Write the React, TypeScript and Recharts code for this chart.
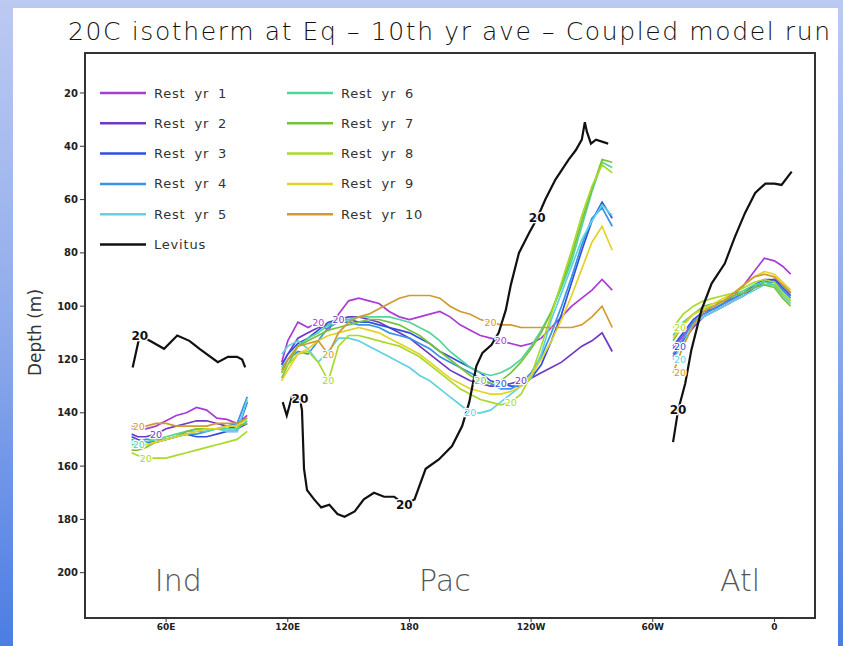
import React from "react"
import {
  LineChart,
  Line,
  XAxis,
  YAxis,
  ReferenceArea,
  ReferenceDot,
  Legend,
} from "recharts"

const FONT = "DejaVu Sans, sans-serif"

const seriesNames = [
  "Rest yr 1", "Rest yr 2", "Rest yr 3", "Rest yr 4", "Rest yr 5",
  "Rest yr 6", "Rest yr 7", "Rest yr 8", "Rest yr 9", "Rest yr 10",
]
const seriesColors = [
  "#a83cd6", "#6f38c4", "#2f4fe0", "#3a92e6", "#5fd3df",
  "#4fd69a", "#78c23a", "#a9d92a", "#e2d325", "#d29a2c",
]

// longitude grids (deg east, 0..380) for the three basins
const indLon = [43, 46, 50, 55, 60, 65, 70, 75, 80, 85, 90, 95, 100]
const pacLon = [
  117, 120, 125, 130, 135, 140, 145, 150, 155, 160, 165, 170, 175, 180, 185, 190, 195,
  200, 205, 210, 215, 220, 225, 230, 235, 240, 245, 250, 255, 260, 265, 270, 275, 280,
]
const atlLon = [310, 315, 320, 325, 330, 335, 340, 345, 350, 355, 360, 364, 368]
const basinStartLon = [43, 310]

// 20C isotherm depth (m), one row per restart year
const restInd = [
  [146, 146, 146, 145, 143, 141, 140, 138, 139, 142, 142.5, 144, 141],
  [148, 149, 149, 148, 146, 145, 144, 143, 143, 144, 145, 146, 144],
  [149, 150, 151, 151, 150, 149, 148, 149, 149, 148, 147, 147, 136],
  [150, 151, 150, 150, 150, 149, 148, 148, 147, 146, 145, 144, 134],
  [151, 152, 152, 151, 150, 149, 147, 146, 146, 146, 147, 147, 135],
  [152, 152, 151, 150, 149, 148, 147, 147, 147, 146, 146, 146, 143],
  [154, 154, 153, 151, 150, 149, 147, 146, 146, 146, 145, 145, 144],
  [155, 156, 157, 157, 157, 156, 155, 154, 153, 152, 151, 150, 147],
  [153, 153, 152, 151, 150, 149, 148, 147, 146, 146, 145, 145, 142],
  [145, 145, 145, 144, 144, 145, 145, 145, 145, 144, 144, 144, 142],
]
const restPac = [
  [121, 113, 106, 108, 106, 109, 103, 98, 97, 98, 99, 102, 104, 105, 104, 103, 102, 104, 107, 109, 111, 112, 113, 114, 115, 114, 112, 108, 104, 100, 97, 94, 90, 94],
  [122, 118, 112, 110, 108, 107, 105, 104, 104, 105, 106, 108, 110, 112, 115, 118, 121, 124, 126, 128, 129, 130, 130, 129, 128, 127, 125, 123, 121, 118, 115, 113, 110, 117],
  [122, 118, 114, 112, 109, 106, 105, 105, 106, 106, 107, 108, 109, 110, 112, 114, 117, 119, 121, 123, 125, 128, 129, 130, 130, 127, 122, 113, 103, 91, 79, 68, 61, 67],
  [125, 120, 117, 118, 113, 108, 106, 106, 107, 107, 108, 110, 111, 112, 114, 116, 119, 121, 123, 125, 127, 129, 131, 131, 129, 125, 119, 110, 100, 89, 77, 67, 63, 70],
  [118, 115, 113, 116, 121, 117, 112, 112, 113, 115, 117, 119, 121, 123, 126, 128, 131, 134, 137, 140, 140, 139, 136, 133, 130, 127, 118, 105, 95, 85, 75, 68, 62, 66],
  [123, 120, 115, 112, 110, 107, 106, 105, 104, 104, 104, 104, 105, 106, 108, 110, 113, 117, 120, 123, 125, 126, 125, 123, 120, 115, 109, 102, 93, 83, 70, 57, 46, 48],
  [127, 122, 115, 113, 111, 109, 108, 107, 106, 105, 105, 106, 107, 109, 111, 114, 117, 120, 123, 126, 128, 129, 128, 125, 121, 116, 110, 102, 92, 81, 68, 56, 45, 46],
  [125, 122, 118, 117, 121, 128, 115, 111, 111, 112, 113, 114, 115, 117, 119, 122, 125, 128, 131, 133, 135, 136, 137, 136, 133, 126, 115, 103, 91, 79, 66, 55, 47, 50],
  [128, 124, 118, 116, 113, 111, 110, 109, 108, 109, 110, 112, 114, 116, 118, 121, 124, 127, 129, 131, 132, 133, 133, 132, 130, 126, 120, 113, 105, 96, 86, 76, 70, 79],
  [124, 120, 115, 114, 113, 118, 110, 106, 104, 103, 101, 99, 97, 96, 96, 96, 97, 100, 102, 103, 105, 106, 107, 107, 108, 108, 108, 108, 108, 108, 107, 104, 100, 108],
]
const restAtl = [
  [116, 111, 106, 103, 101, 99, 96, 92, 87, 82, 83, 85, 88],
  [119, 113, 108, 104, 102, 100, 98, 96, 93, 91, 90, 92, 95],
  [115, 110, 105, 102, 101, 99, 97, 95, 92, 90, 90, 93, 96],
  [118, 112, 106, 103, 101, 99, 97, 95, 93, 91, 91, 94, 97],
  [120, 114, 107, 104, 102, 100, 98, 96, 94, 92, 92, 95, 98],
  [111, 106, 103, 101, 100, 98, 96, 94, 92, 91, 92, 96, 99],
  [113, 107, 103, 100, 99, 98, 96, 95, 93, 92, 93, 97, 100],
  [108, 103, 100, 98, 97, 96, 95, 93, 91, 90, 91, 95, 98],
  [112, 107, 103, 101, 99, 97, 95, 92, 89, 87, 88, 91, 94],
  [125, 115, 107, 102, 100, 98, 95, 92, 89, 88, 89, 92, 95],
]
// where each run carries a "20" contour label
const restLabelLon = [
  [135, 225],
  [55, 145, 235],
  [225, 310],
  [],
  [210, 310],
  [43],
  [215],
  [50, 140, 230, 310],
  [],
  [43, 140, 220, 310],
]

// Levitus climatology
const levIndLon = [43.5, 47, 52, 59, 65.5, 71.5, 76.5, 85.5, 90.5, 95, 97.5, 99]
const levIndDepth = [123, 111, 113, 116, 111, 113, 116, 121, 119, 119, 120, 123]
const levPacLon = [
  117.5, 119.5, 122, 126, 127, 128, 129.5, 133, 136.5, 140.5, 144.5, 148, 153, 157.5,
  162.5, 167.5, 172.5, 177.5, 182.5, 188, 194.5, 201, 206, 209.5, 213, 216, 220.5, 224,
  227.5, 230, 234, 239, 243, 247, 252, 258.5, 262, 265, 266.5, 267.5, 269.5, 272, 278,
]
const levPacDepth = [
  136, 141, 134, 135, 139, 161, 169, 172.5, 175.5, 174.5, 178, 179, 177, 172.5,
  170, 171.5, 171.5, 174.5, 172.5, 161, 157.5, 152.5, 145, 136, 122.5, 117.5, 114.5, 110,
  101.5, 92, 80, 72.5, 67, 60, 52.5, 45, 41.5, 37.5, 31, 34.5, 39, 37.5, 39,
]
const levAtlLon = [310, 312.5, 316, 319, 324, 329, 335.5, 340.5, 345.5, 350.5, 355.5, 360, 363.5, 368.5]
const levAtlDepth = [151, 139, 129, 116.5, 101.5, 91.5, 84, 74, 65, 57.5, 54, 54, 54.5, 49.5]
const levLabelLon = [47, 126, 177.5, 243, 312.5]

const lonTicks = [60, 120, 180, 240, 300, 360]
const lonTickLabels = ["60E", "120E", "180", "120W", "60W", "0"]
const depthTicks = [20, 40, 60, 80, 100, 120, 140, 160, 180, 200]

const basinNames = ["Ind", "Pac", "Atl"]
const basinLon = [66, 197.5, 343]
const basinDepth = [203, 203, 203]

const keyOf = (k: number) => `r${k}`

const basinRows = (lons: number[], table: number[][]) =>
  lons.map((lon, i) => {
    const row: any = { lon }
    table.forEach((vals, k) => (row[keyOf(k)] = vals[i]))
    return row
  })

const gapRow = (lon: number) => {
  const row: any = { lon }
  seriesNames.forEach((_, k) => (row[keyOf(k)] = null))
  return row
}

const restRows = [
  ...basinRows(indLon, restInd),
  gapRow(108),
  ...basinRows(pacLon, restPac),
  gapRow(295),
  ...basinRows(atlLon, restAtl),
]

const levRows = [
  ...levIndLon.map((lon, i) => ({ lon, d: levIndDepth[i] })),
  { lon: 108, d: null },
  ...levPacLon.map((lon, i) => ({ lon, d: levPacDepth[i] })),
  { lon: 295, d: null },
  ...levAtlLon.map((lon, i) => ({ lon, d: levAtlDepth[i] })),
]

// contour label "20" drawn on chosen points, as GrADS does
const tagDot = (id: string, color: string, lons: number[], bold = false) => (p: any) => {
  const k = `${id}-${p.index}`
  if (p.cy == null || !p.payload || !lons.includes(p.payload.lon)) return <g key={k} />
  const atStart = !bold && basinStartLon.includes(p.payload.lon)
  return (
    <text
      key={k}
      x={atStart ? p.cx + 1 : p.cx}
      y={p.cy}
      textAnchor={atStart ? "start" : "middle"}
      dominantBaseline="central"
      fontSize={bold ? 12 : 9.5}
      fontWeight={bold ? "bold" : "normal"}
      fontFamily={FONT}
      fill={color}
      stroke="#fff"
      strokeWidth={2.5}
      paintOrder="stroke"
    >
      20
    </text>
  )
}

function LegendBox() {
  const rowY = (i: number) => 13 + i * 30.3
  const item = (name: string, color: string, col: number, i: number) => {
    const x0 = col === 0 ? 10 : 197
    return (
      <g key={name}>
        <line x1={x0} x2={x0 + 46} y1={rowY(i)} y2={rowY(i)} stroke={color} strokeWidth={2.5} />
        <text
          x={x0 + 54}
          y={rowY(i)}
          dominantBaseline="central"
          fontSize={13}
          fontFamily={FONT}
          fill="#333"
          letterSpacing={0.8}
          wordSpacing={4}
          style={{ whiteSpace: "pre" }}
        >
          {name}
        </text>
      </g>
    )
  }
  return (
    <svg width={380} height={180} style={{ display: "block" }}>
      {seriesNames.map((n, k) => item(n, seriesColors[k], k < 5 ? 0 : 1, k % 5))}
      {item("Levitus", "#111", 0, 5)}
    </svg>
  )
}

export default function App() {
  return (
    <div
      style={{
        position: "absolute",
        left: 0,
        top: 0,
        width: 843,
        height: 646,
        overflow: "hidden",
        background: "linear-gradient(to bottom, #bccaf2 0%, #90abec 50%, #4b7de3 100%)",
      }}
    >
      <div style={{ position: "absolute", left: 13, top: 8, width: 825, height: 638, background: "#fff" }} />
      <svg width={843} height={60} style={{ position: "absolute", left: 0, top: 0 }}>
        <text
          x={68}
          y={40}
          fontSize={25}
          fontWeight={200}
          fontFamily={FONT}
          fill="#111"
          textLength={762}
          lengthAdjust="spacing"
        >
          20C isotherm at Eq – 10th yr ave – Coupled model run
        </text>
      </svg>
      <div style={{ position: "absolute", left: 0, top: 0 }}>
        <LineChart
          width={843}
          height={646}
          data={restRows}
          margin={{ top: 53, right: 28, bottom: 8, left: 45 }}
        >
          <XAxis
            dataKey="lon"
            type="number"
            domain={[20, 380]}
            allowDataOverflow
            ticks={lonTicks}
            tickFormatter={(v: number) => lonTickLabels[lonTicks.indexOf(v)]}
            height={20}
            axisLine={false}
            tickLine={{ stroke: "#333" }}
            tickSize={4}
            tick={{ fontSize: 9, fontWeight: "bold", fill: "#222", fontFamily: FONT }}
          />
          <YAxis
            type="number"
            reversed
            domain={[5, 217]}
            allowDataOverflow
            ticks={depthTicks}
            width={40}
            axisLine={false}
            tickLine={{ stroke: "#333" }}
            tickSize={5}
            tick={{ fontSize: 10, fontWeight: "bold", fill: "#222", fontFamily: FONT }}
            label={{
              content: ({ viewBox }: any) => (
                <text
                  x={viewBox.x - 10}
                  y={viewBox.y + viewBox.height / 2 - 3}
                  transform={`rotate(-90, ${viewBox.x - 10}, ${viewBox.y + viewBox.height / 2 - 3})`}
                  textAnchor="middle"
                  dominantBaseline="central"
                  fontSize={17}
                  fontFamily={FONT}
                  fill="#333"
                >
                  Depth (m)
                </text>
              ),
            }}
          />
          {seriesNames.map((name, k) => (
            <Line
              key={name}
              name={name}
              dataKey={keyOf(k)}
              type="linear"
              stroke={seriesColors[k]}
              strokeWidth={1.7}
              dot={tagDot(name, seriesColors[k], restLabelLon[k])}
              activeDot={false}
              connectNulls={false}
              isAnimationActive={false}
            />
          ))}
          <Line
            name="Levitus"
            data={levRows}
            dataKey="d"
            type="linear"
            stroke="#111"
            strokeWidth={2.2}
            dot={tagDot("lev", "#111", levLabelLon, true)}
            activeDot={false}
            connectNulls={false}
            isAnimationActive={false}
          />
          {basinNames.map((b, i) => (
            <ReferenceDot
              key={b}
              x={basinLon[i]}
              y={basinDepth[i]}
              r={0}
              fill="none"
              stroke="none"
              ifOverflow="visible"
              label={{ value: b, position: "center", fontSize: 30, fill: "#555", fontFamily: FONT, fontWeight: 200 }}
            />
          ))}
          <ReferenceArea
            x1={20}
            x2={380}
            y1={5}
            y2={217}
            fill="none"
            stroke="#333"
            strokeWidth={2}
            ifOverflow="visible"
          />
          <Legend
            layout="horizontal"
            verticalAlign="middle"
            align="center"
            content={() => <LegendBox />}
            wrapperStyle={{ left: 90, top: 80, width: 380, height: 180 }}
          />
        </LineChart>
      </div>
    </div>
  )
}
